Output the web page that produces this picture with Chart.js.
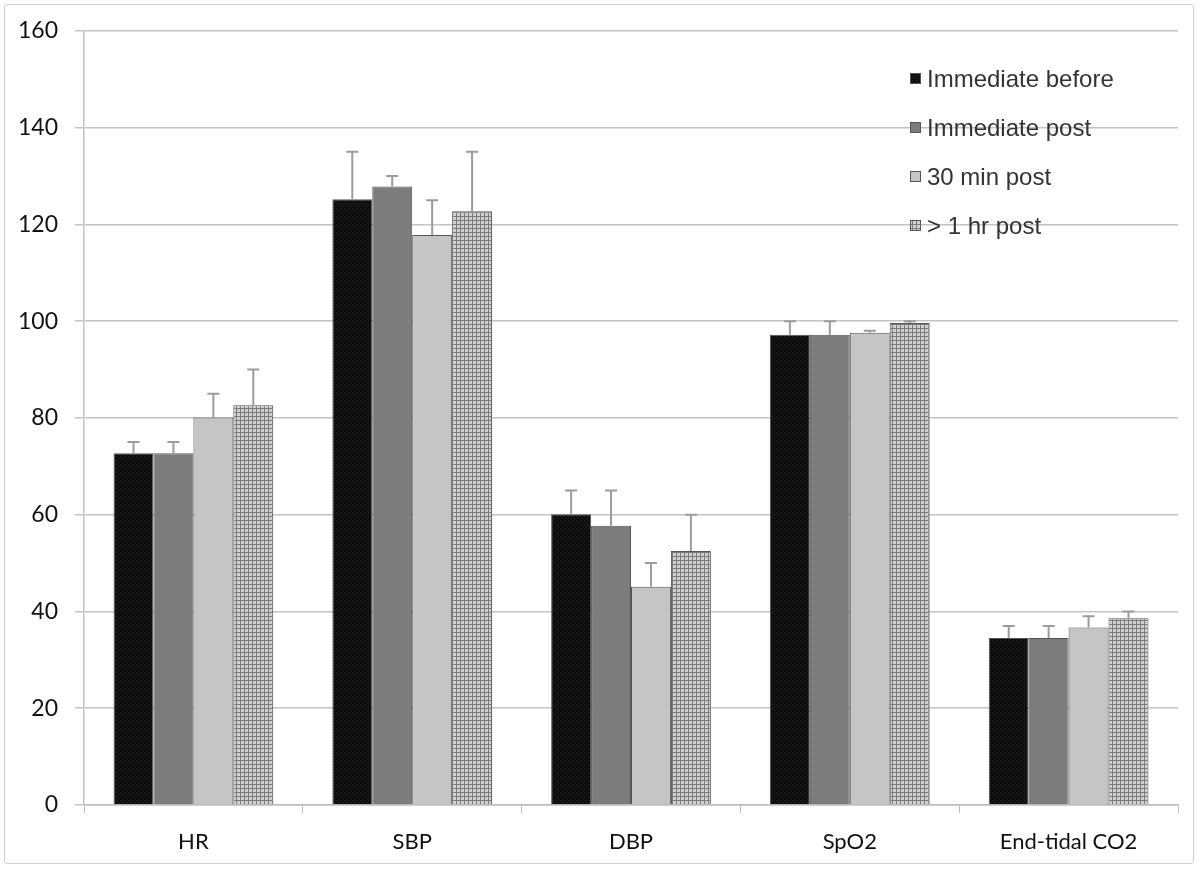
<!DOCTYPE html>
<html>
<head>
<meta charset="utf-8">
<script src="https://cdn.jsdelivr.net/npm/chart.js@4.4.1/dist/chart.umd.min.js"></script>
<style>
html,body{margin:0;padding:0;background:#fff;}
#wrap{position:absolute;left:0;top:0;width:1200px;height:870px;}
#frame{position:absolute;left:4px;top:4px;width:1190px;height:860px;border:1.5px solid #cfcfcf;border-radius:3px;box-sizing:border-box;pointer-events:none;}
canvas{display:block;}
</style>
</head>
<body>
<div id="wrap">
<canvas id="c" width="1200" height="870"></canvas>
<div id="frame"></div>
</div>
<script>
// ---- data ----
const categories = ["HR", "SBP", "DBP", "SpO2", "End-tidal CO2"];
const seriesNames = ["Immediate before", "Immediate post", "30 min post", "> 1 hr post"];
const immediateBefore = [72.7, 125.2, 60.1, 97.2, 34.5];
const immediatePost   = [72.7, 127.8, 57.7, 97.2, 34.5];
const min30Post       = [80.1, 117.8, 45.1, 97.6, 36.7];
const hr1Post         = [82.6, 122.7, 52.5, 99.6, 38.6];
// upper error bar ends
const errBefore = [75, 135, 65, 100, 37];
const errPost   = [75, 130, 65, 100, 37];
const err30     = [85, 125, 50, 98, 39];
const err1hr    = [90, 135, 60, 100, 40];
const yTicks = [0, 20, 40, 60, 80, 100, 120, 140, 160];

// ---- patterns ----
function makePattern(size, draw) {
  const pc = document.createElement('canvas');
  pc.width = size; pc.height = size;
  const g = pc.getContext('2d');
  draw(g, size);
  return g.createPattern(pc, 'repeat');
}
const ctx = document.getElementById('c').getContext('2d');
const patBlack = makePattern(4, (g) => {
  g.fillStyle = '#0d0d0d'; g.fillRect(0, 0, 4, 4);
  g.fillStyle = '#2e2e2e'; g.fillRect(0, 0, 1, 1); g.fillRect(2, 2, 1, 1);
});
const patGray = makePattern(4, (g) => {
  g.fillStyle = '#7b7b7b'; g.fillRect(0, 0, 4, 4);
  g.fillStyle = '#858585'; g.fillRect(0, 0, 1, 1); g.fillRect(2, 2, 1, 1);
});
const patLight = makePattern(4, (g) => {
  g.fillStyle = '#c6c6c6'; g.fillRect(0, 0, 4, 4);
  g.fillStyle = '#bcbcbc'; g.fillRect(0, 0, 1, 1); g.fillRect(2, 2, 1, 1);
});
const patHatch = makePattern(4, (g) => {
  g.fillStyle = '#d0d0d0'; g.fillRect(0, 0, 4, 4);
  g.fillStyle = '#7c7c7c'; g.fillRect(0, 0, 4, 1); g.fillRect(0, 0, 1, 4);
});
const fills = [patBlack, patGray, patLight, patHatch];
const values = [immediateBefore, immediatePost, min30Post, hr1Post];
const errs = [errBefore, errPost, err30, err1hr];

const datasets = seriesNames.map((n, i) => ({
  label: n,
  data: values[i],
  errTop: errs[i],
  backgroundColor: fills[i],
  borderColor: '#555',
  borderWidth: 1,
  categoryPercentage: 0.73,
  barPercentage: 1.0
}));

// error bar plugin
const errorBars = {
  id: 'errorBars',
  afterDatasetsDraw(chart) {
    const c = chart.ctx;
    const ys = chart.scales.y;
    c.save();
    c.strokeStyle = '#9c9c9c';
    c.lineWidth = 2;
    chart.data.datasets.forEach((ds, di) => {
      const meta = chart.getDatasetMeta(di);
      meta.data.forEach((bar, j) => {
        const top = ys.getPixelForValue(ds.errTop[j]);
        const x = bar.x;
        c.beginPath();
        c.moveTo(x, bar.y);
        c.lineTo(x, top);
        c.moveTo(x - 6, top);
        c.lineTo(x + 6, top);
        c.stroke();
      });
    });
    c.restore();
  }
};

// in-plot legend plugin
const inLegend = {
  id: 'inLegend',
  afterDraw(chart) {
    const c = chart.ctx;
    c.save();
    c.font = '24px "Liberation Sans", Arial, sans-serif';
    c.textBaseline = 'middle';
    chart.data.datasets.forEach((ds, i) => {
      const y = 79 + i * 49;
      c.fillStyle = ds.backgroundColor;
      c.fillRect(910, y - 6, 11, 11);
      c.strokeStyle = '#555';
      c.lineWidth = 1;
      c.strokeRect(910.5, y - 5.5, 10, 10);
      c.fillStyle = '#333';
      c.fillText(ds.label, 927, y + 1);
    });
    c.restore();
  }
};

new Chart(ctx, {
  type: 'bar',
  data: { labels: categories, datasets },
  options: {
    responsive: false,
    animation: false,
    layout: { padding: { left: 0, top: 28, right: 22, bottom: 0 } },
    plugins: { legend: { display: false }, tooltip: { enabled: false } },
    scales: {
      x: {
        afterFit(s) { s.height = 65; },
        grid: { display: true, drawOnChartArea: false, drawTicks: true, tickLength: 8, color: '#bdbdbd', offset: true },
        border: { display: true, color: '#bdbdbd', width: 1.5 },
        ticks: { color: '#111', font: { family: 'Lato, "Open Sans", sans-serif', size: 22 }, padding: 16 }
      },
      y: {
        min: 0, max: 160,
        afterFit(s) { s.width = 84; },
        afterBuildTicks(s) { s.ticks = yTicks.map(v => ({ value: v })); },
        grid: { color: '#c4c4c4', lineWidth: 1.5, drawTicks: true, tickLength: 9 },
        border: { display: true, color: '#c4c4c4', width: 1.5 },
        ticks: { color: '#111', font: { family: 'Lato, "Open Sans", sans-serif', size: 23 }, padding: 17 }
      }
    }
  },
  plugins: [errorBars, inLegend]
});
</script>
</body>
</html>
